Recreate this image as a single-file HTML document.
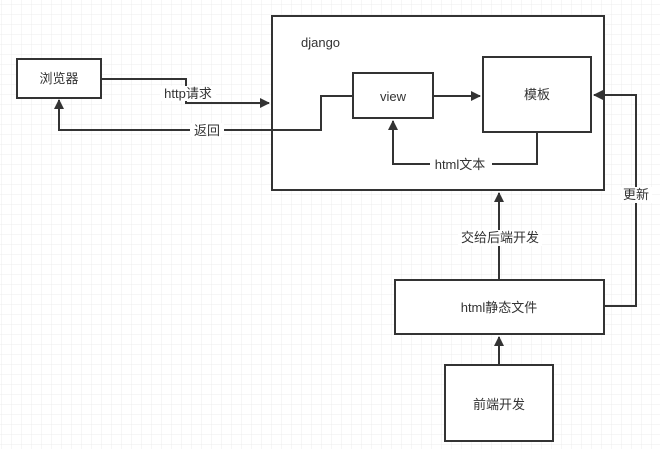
<!DOCTYPE html>
<html><head><meta charset="utf-8"><style>
body{margin:0;width:660px;height:449px;overflow:hidden;background:#fff;}
</style></head><body>
<svg width="660" height="449" xmlns="http://www.w3.org/2000/svg" font-family="Liberation Sans, Noto Sans CJK SC, sans-serif" font-size="13" fill="#333">
<defs>
<pattern id="g" width="10" height="10" patternUnits="userSpaceOnUse" x="2" y="5">
<path d="M10 0V10M0 10H10" stroke="#ececec" stroke-width="1" fill="none"/>
</pattern>
<marker id="a" markerWidth="10" markerHeight="10" refX="9" refY="5" orient="auto" markerUnits="userSpaceOnUse">
<path d="M0 0L10 5L0 10Z" fill="#333"/>
</marker>
</defs>
<rect width="660" height="449" fill="url(#g)"/>
<g stroke="#333" stroke-width="2" fill="#fff">
<rect x="272" y="16" width="332" height="174"/>
<rect x="17" y="59" width="84" height="39"/>
<rect x="353" y="73" width="80" height="45"/>
<rect x="483" y="57" width="108" height="75"/>
<rect x="395" y="280" width="209" height="54"/>
<rect x="445" y="365" width="108" height="76"/>
</g>
<g stroke="#333" stroke-width="2" fill="none">
<path d="M101 79H186V86"/>
<path d="M186 101V103H269" marker-end="url(#a)"/>
<path d="M353 96H321V130H59V100" marker-end="url(#a)"/>
<path d="M433 96H480" marker-end="url(#a)"/>
<path d="M537 132V164H393V121" marker-end="url(#a)"/>
<path d="M604 306H636V95H594" marker-end="url(#a)"/>
<path d="M499 280V193" marker-end="url(#a)"/>
<path d="M499 365V337" marker-end="url(#a)"/>
</g>
<g text-anchor="middle">
<rect x="190" y="123" width="34" height="14" fill="#fff"/>
<text x="207" y="135">返回</text>
<rect x="160" y="86" width="56" height="15" fill="#fff"/>
<text x="188" y="98">http请求</text>
<text x="59" y="83">浏览器</text>
<text x="393" y="101">view</text>
<text x="537" y="99">模板</text>
<rect x="430" y="157" width="62" height="14" fill="#fff"/>
<text x="460" y="169">html文本</text>
<rect x="620" y="187" width="32" height="16" fill="#fff"/>
<text x="636" y="199">更新</text>
<rect x="458" y="230" width="84" height="16" fill="#fff"/>
<text x="500" y="242">交给后端开发</text>
<text x="499" y="312">html静态文件</text>
<text x="499" y="409">前端开发</text>
</g>
<text x="301" y="47" fill="#333">django</text>
</svg>
</body></html>
